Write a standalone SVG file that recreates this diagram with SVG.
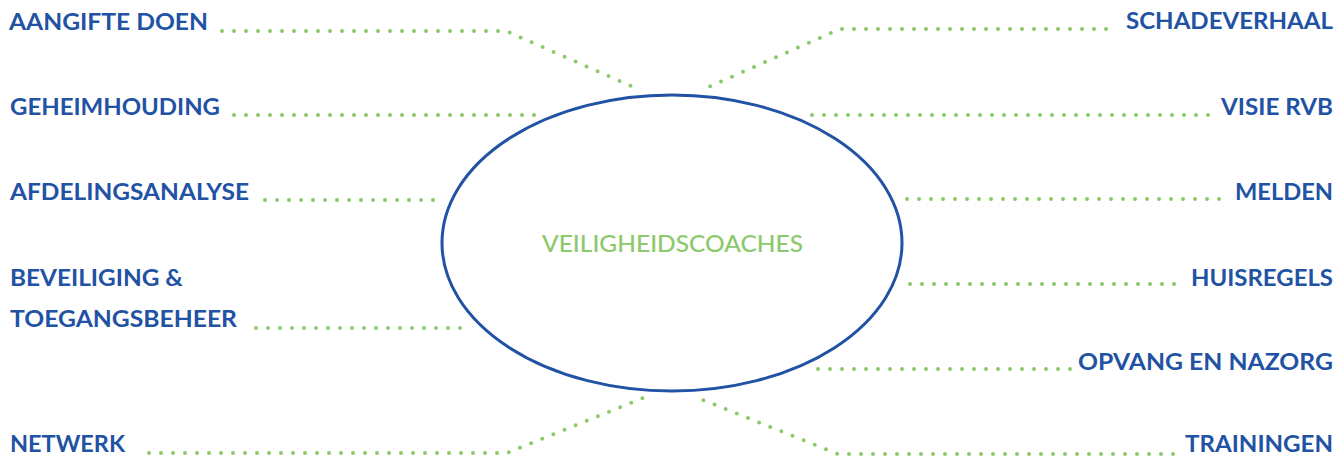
<svg xmlns="http://www.w3.org/2000/svg" width="1336" height="457" viewBox="0 0 1336 457">
<style>
.lbl{font-family:Lato,"Liberation Sans",Arial,sans-serif;font-weight:700;font-size:23px;fill:#2152a3}
.ctr{font-family:Lato,"Liberation Sans",Arial,sans-serif;font-weight:500;font-size:23px;fill:#8cc96b}
.dot{fill:none;stroke:#8cc96b;stroke-width:4;stroke-linecap:round;stroke-dasharray:0 12}
.hub{fill:#ffffff;stroke:#2152a3;stroke-width:3}
</style>
<rect width="1336" height="457" fill="#ffffff"/>
<g id="connectors">
<path class="dot" d="M222,31 H506 L638,89"/>
<path class="dot" d="M1106,29 H840 L704,89"/>
<path class="dot" d="M234,115 H541"/>
<path class="dot" d="M1208,115 H809"/>
<path class="dot" d="M265,200 H438"/>
<path class="dot" d="M1219,199 H904"/>
<path class="dot" d="M256,328 H470"/>
<path class="dot" d="M1174,284 H907"/>
<path class="dot" d="M1070,369 H810"/>
<path class="dot" d="M149,453 H507 L653,394"/>
<path class="dot" d="M1173,454 H838 L693,396"/>
</g>
<g id="veiligheidscoaches">
<ellipse class="hub" cx="672" cy="243" rx="230" ry="148"/>
<text class="ctr" x="542" y="252" textLength="261" lengthAdjust="spacingAndGlyphs">VEILIGHEIDSCOACHES</text>
</g>
<g id="aangifte-doen"><text class="lbl" x="9" y="30" textLength="199" lengthAdjust="spacingAndGlyphs">AANGIFTE DOEN</text></g>
<g id="geheimhouding"><text class="lbl" x="10" y="115" textLength="210" lengthAdjust="spacingAndGlyphs">GEHEIMHOUDING</text></g>
<g id="afdelingsanalyse"><text class="lbl" x="10" y="200" textLength="239" lengthAdjust="spacingAndGlyphs">AFDELINGSANALYSE</text></g>
<g id="beveiliging-toegangsbeheer">
<text class="lbl" x="10" y="286" textLength="173" lengthAdjust="spacingAndGlyphs">BEVEILIGING &amp;</text>
<text class="lbl" x="10" y="327" textLength="227" lengthAdjust="spacingAndGlyphs">TOEGANGSBEHEER</text>
</g>
<g id="netwerk"><text class="lbl" x="10" y="452" textLength="115" lengthAdjust="spacingAndGlyphs">NETWERK</text></g>
<g id="schadeverhaal"><text class="lbl" x="1126" y="29" textLength="207" lengthAdjust="spacingAndGlyphs">SCHADEVERHAAL</text></g>
<g id="visie-rvb"><text class="lbl" x="1221" y="115" textLength="112" lengthAdjust="spacingAndGlyphs">VISIE RVB</text></g>
<g id="melden"><text class="lbl" x="1235" y="200" textLength="98" lengthAdjust="spacingAndGlyphs">MELDEN</text></g>
<g id="huisregels"><text class="lbl" x="1191" y="286" textLength="142" lengthAdjust="spacingAndGlyphs">HUISREGELS</text></g>
<g id="opvang-en-nazorg"><text class="lbl" x="1078" y="370" textLength="255" lengthAdjust="spacingAndGlyphs">OPVANG EN NAZORG</text></g>
<g id="trainingen"><text class="lbl" x="1185" y="452" textLength="148" lengthAdjust="spacingAndGlyphs">TRAININGEN</text></g>
</svg>
